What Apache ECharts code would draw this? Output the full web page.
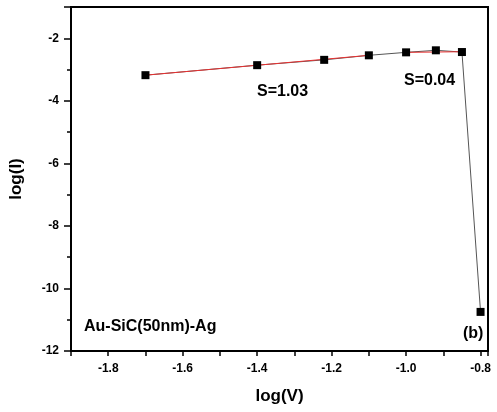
<!DOCTYPE html>
<html>
<head>
<meta charset="utf-8">
<script src="https://cdn.jsdelivr.net/npm/echarts@6/dist/echarts.min.js"></script>
<style>html,body{margin:0;padding:0;background:#fff}#c{width:497px;height:412px}</style>
</head>
<body>
<div id="c"></div>
<script>
var logV = [-1.70, -1.40, -1.22, -1.10, -1.00, -0.92, -0.85, -0.80];
var logI = [-3.18, -2.86, -2.69, -2.545, -2.45, -2.385, -2.44, -10.75];
var fit1X = [-1.70, -1.10];
var fit1Y = [-3.18, -2.545];
var fit2X = [-1.00, -0.85];
var fit2Y = [-2.45, -2.43];
var slopeLabels = ['S=1.03', 'S=0.04'];
var sampleLabel = 'Au-SiC(50nm)-Ag';
var panelLabel = '(b)';

function pairs(xs, ys) { return xs.map(function (x, i) { return [x, ys[i]]; }); }

var font = 'Liberation Sans, Arial, sans-serif';
var chart = echarts.init(document.getElementById('c'));
chart.setOption({
  animation: false,
  grid: { left: 70, right: 9, top: 7, bottom: 61, show: true, borderColor: '#000', borderWidth: 2 },
  xAxis: {
    type: 'value', min: -1.9, max: -0.78, interval: 0.1,
    name: 'log(V)', nameLocation: 'middle', nameGap: 37,
    nameTextStyle: { fontFamily: font, fontWeight: 'bold', fontSize: 17, color: '#000' },
    axisLine: { show: true, lineStyle: { color: '#000', width: 2 } },
    axisTick: { show: true, inside: false, length: 5, lineStyle: { color: '#000', width: 1.5 } },
    axisLabel: {
      fontFamily: font, fontWeight: 'bold', fontSize: 12, color: '#000', margin: 12,
      formatter: function (v) {
        var k = Math.round(v * 10);
        if (k % 2 !== 0 || v > -0.79) return '';
        return (k / 10).toFixed(1);
      }
    },
    splitLine: { show: false }
  },
  yAxis: {
    type: 'value', min: -12, max: -1, interval: 2,
    name: 'log(I)', nameLocation: 'middle', nameGap: 46, nameRotate: 90,
    nameTextStyle: { fontFamily: font, fontWeight: 'bold', fontSize: 17, color: '#000' },
    axisLine: { show: true, lineStyle: { color: '#000', width: 2 } },
    axisTick: { show: true, inside: false, length: 7, lineStyle: { color: '#000', width: 1.5 } },
    minorTick: { show: true, splitNumber: 2, length: 4, lineStyle: { color: '#000', width: 1.5 } },
    axisLabel: {
      fontFamily: font, fontWeight: 'bold', fontSize: 12, color: '#000', margin: 12,
      formatter: function (v) { return v > -1.5 ? '' : String(v); }
    },
    splitLine: { show: false }
  },
  series: [
    {
      type: 'line', data: pairs(logV, logI), symbol: 'none',
      lineStyle: { color: '#555', width: 1 }, z: 2
    },
    {
      type: 'line', data: pairs(fit1X, fit1Y), symbol: 'none',
      lineStyle: { color: '#e83030', width: 1 }, z: 3
    },
    {
      type: 'line', data: pairs(fit2X, fit2Y), symbol: 'none',
      lineStyle: { color: '#e83030', width: 1 }, z: 3
    },
    {
      type: 'scatter', data: pairs(logV, logI),
      symbol: 'rect', symbolSize: 8,
      itemStyle: { color: '#000', opacity: 1 }, z: 4
    }
  ],
  graphic: [
    { type: 'text', left: 257, top: 84, style: { text: slopeLabels[0], font: 'bold 16px ' + font, fill: '#000' } },
    { type: 'text', left: 404, top: 73, style: { text: slopeLabels[1], font: 'bold 16px ' + font, fill: '#000' } },
    { type: 'text', left: 84, top: 319, style: { text: sampleLabel, font: 'bold 16px ' + font, fill: '#000' } },
    { type: 'text', left: 463, top: 326, style: { text: panelLabel, font: 'bold 16px ' + font, fill: '#000' } }
  ]
});
</script>
</body>
</html>
